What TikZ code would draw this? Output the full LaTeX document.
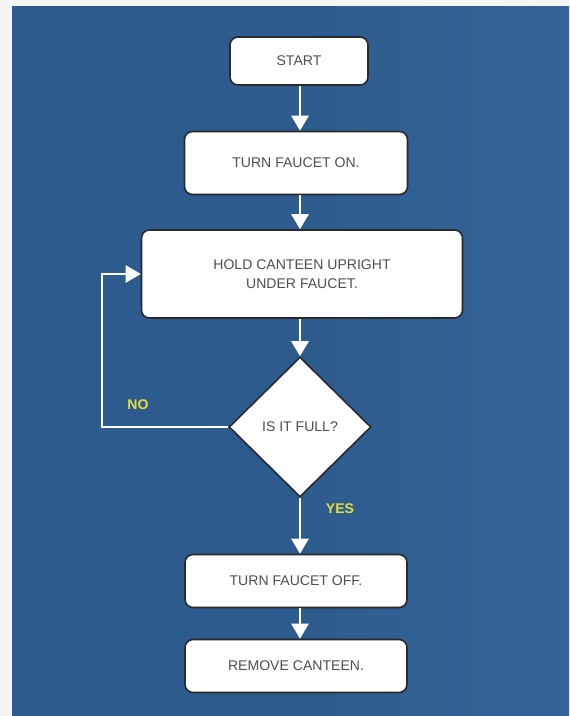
\documentclass[tikz,border=0pt]{standalone}
\usepackage{fontspec}
\setmainfont{Liberation Sans}
\usepackage{xcolor}
\usetikzlibrary{shapes.geometric,arrows.meta}
\definecolor{panelblue}{RGB}{45,91,141}
\definecolor{panelblueR}{RGB}{52,100,152}
\definecolor{labelyellow}{RGB}{226,222,58}
\definecolor{textgrey}{RGB}{78,78,78}
\definecolor{edgegrey}{RGB}{40,40,45}

\begin{document}
\begin{tikzpicture}[x=0.02cm,y=-0.02cm,
    stepbox/.style={draw=edgegrey, line width=0.9pt, fill=white, rounded corners=0.16cm,
        text=textgrey, font=\fontsize{8}{11}\selectfont, align=center, inner sep=0pt},
    decision/.style={diamond, draw=edgegrey, line width=0.9pt, fill=white, aspect=1,
        text=textgrey, font=\fontsize{8}{11}\selectfont, inner sep=0pt,
        minimum width=2.84cm, minimum height=2.8cm},
    flow/.style={draw=white, line width=1.5pt, -{Triangle[width=0.34cm,length=0.3cm]}},
    answer/.style={text=labelyellow, font=\fontsize{8}{10}\selectfont\bfseries}]
            \useasboundingbox (0,0) rectangle (569,716);
            \fill[white!96!black] (0,0) rectangle (569,716);
            \shade[left color=panelblue, right color=panelblueR, middle color=panelblue] (12,7) rectangle (569,716);

            \node[stepbox, minimum width=2.76cm, minimum height=0.96cm] (start) at (299,61) {START};
            \node[stepbox, minimum width=4.46cm, minimum height=1.26cm] (on) at (296,163) {TURN FAUCET ON.};
            \node[stepbox, minimum width=6.42cm, minimum height=1.76cm] (hold) at (302,274) {HOLD CANTEEN UPRIGHT\\UNDER FAUCET.};
            \node[decision] (full) at (300,427) {IS IT FULL?};
            \node[stepbox, minimum width=4.44cm, minimum height=1.06cm] (off) at (296,581) {TURN FAUCET OFF.};
            \node[stepbox, minimum width=4.44cm, minimum height=1.06cm] (remove) at (296,666) {REMOVE CANTEEN.};
            \coordinate (bend) at (102,427);

            \draw[flow] (full |- start.south) -- (full |- on.north);
            \draw[flow] (full |- on.south) -- (full |- hold.north);
            \draw[flow] (full |- hold.south) -- (full.north);
            \draw[flow] (full.south) -- (full |- off.north);
            \draw[flow] (full |- off.south) -- (full |- remove.north);
            \draw[flow] (full.west) -- (bend) |- (hold.west);

            \node[answer] (no) at (138,405) {NO};
            \node[answer] (yes) at (340,509) {YES};
        \end{tikzpicture}
\end{document}
